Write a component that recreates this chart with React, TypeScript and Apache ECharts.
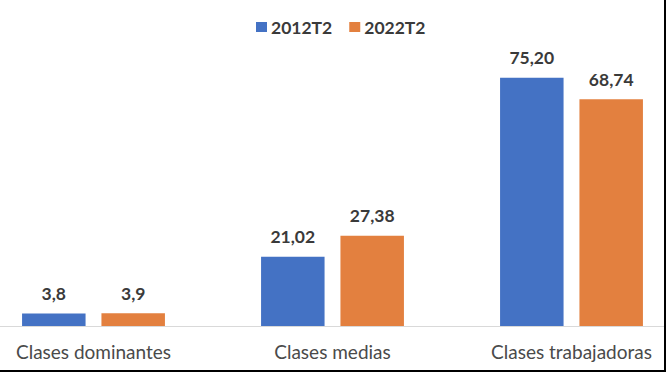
import React, { useEffect, useRef } from "react";
import * as echarts from "echarts";

const categories = ["Clases dominantes", "Clases medias", "Clases trabajadoras"];
const seriesNames = ["2012T2", "2022T2"];
const values2012 = [3.8, 21.02, 75.2];
const values2022 = [3.9, 27.38, 68.74];
const labels2012 = ["3,8", "21,02", "75,20"];
const labels2022 = ["3,9", "27,38", "68,74"];

const FONT = "Lato, 'Open Sans', sans-serif";

export default function App() {
  const ref = useRef<HTMLDivElement>(null);
  useEffect(() => {
    document.body.style.margin = "0";
    const chart = echarts.init(ref.current!, null, { renderer: "svg" });
    const mkLabel = (labels: string[]) => ({
      show: true,
      position: "top" as const,
      distance: 11,
      color: "#3A3A3A",
      fontFamily: FONT,
      fontWeight: "bold" as const,
      fontSize: 17.5,
      formatter: (p: any) => labels[p.dataIndex],
    });
    chart.setOption({
      animation: false,
      backgroundColor: "#ffffff",
      legend: {
        top: 13,
        left: 277,
        itemWidth: 11,
        itemHeight: 10,
        itemGap: 17,
        icon: "rect",
        textStyle: {
          color: "#3A3A3A",
          fontFamily: FONT,
          fontWeight: "bold",
          fontSize: 17.5,
          padding: [0, 0, 0, -1],
        },
        data: seriesNames,
      },
      grid: { left: 0, right: 0, top: 62, bottom: 44, containLabel: false },
      xAxis: {
        type: "category",
        data: categories,
        axisLine: { lineStyle: { color: "#D9D9D9", width: 1 } },
        axisTick: { show: false },
        axisLabel: { color: "#4A4A4A", fontFamily: FONT, fontSize: 19, margin: 16 },
      },
      yAxis: {
        type: "value",
        min: 0,
        max: 80,
        show: false,
        splitLine: { show: false },
      },
      series: [
        {
          name: seriesNames[0],
          type: "bar",
          data: values2012,
          barWidth: 63.5,
          barGap: "25%",
          itemStyle: { color: "#4472C4" },
          label: mkLabel(labels2012),
        },
        {
          name: seriesNames[1],
          type: "bar",
          data: values2022,
          barWidth: 63.5,
          itemStyle: { color: "#E3803F" },
          label: mkLabel(labels2022),
        },
      ],
    });
    return () => chart.dispose();
  }, []);
  return (
    <div
      style={{
        position: "fixed",
        left: 0,
        top: 0,
        width: 666,
        height: 372,
        boxSizing: "border-box",
        borderRight: "2px solid #000",
        borderBottom: "2px solid #000",
        overflow: "hidden",
        background: "#fff",
      }}
    >
      <div
        ref={ref}
        style={{ position: "absolute", left: -26, top: 0, width: 717, height: 370 }}
      />
    </div>
  );
}
